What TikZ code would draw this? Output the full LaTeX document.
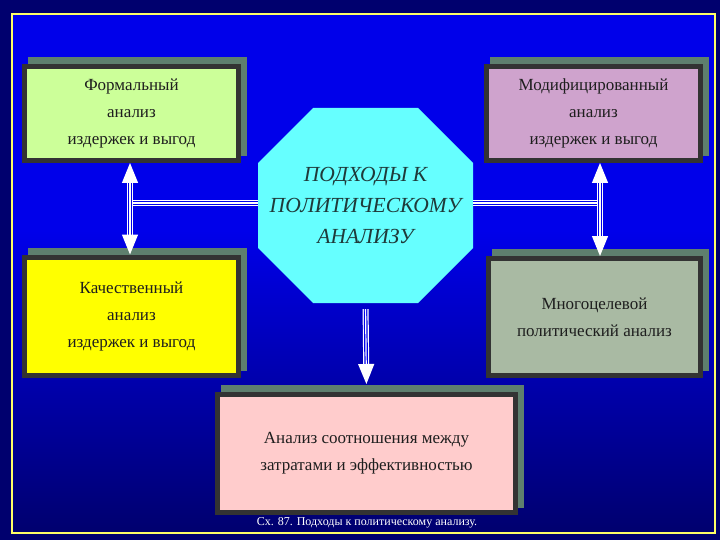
\documentclass[tikz,border=0pt]{standalone}
\usepackage{fontspec}
\setmainfont{Liberation Serif}
\usetikzlibrary{arrows.meta,shadows}

\definecolor{navy}{HTML}{00006E}
\definecolor{brightblue}{HTML}{0000EA}
\definecolor{boxline}{HTML}{333333}
\definecolor{shadowc}{HTML}{5E7F6E}
\definecolor{textc}{HTML}{1E1E1E}
\definecolor{formc}{HTML}{CCFF99}
\definecolor{modc}{HTML}{CFA3CD}
\definecolor{qualc}{HTML}{FFFF00}
\definecolor{multic}{HTML}{A9BAA3}
\definecolor{ratioc}{HTML}{FFCCCC}
\definecolor{octc}{HTML}{66FFFF}
\definecolor{octtext}{HTML}{1F3A3A}
\definecolor{framec}{HTML}{FFFF66}

\begin{document}
\begin{tikzpicture}[x=1pt,y=-1pt,
   box/.style={draw=boxline, line width=5pt, align=center, text=textc,
     font=\fontsize{17}{27}\selectfont,
     drop shadow={shadow xshift=6pt, shadow yshift=7pt, fill=shadowc, draw=shadowc, opacity=1}},
   octagon/.style={minimum width=215pt, minimum height=195pt, inner sep=0pt,
     path picture={\fill[octc]
       ([xshift=#1]path picture bounding box.north west) -- ([xshift=-#1]path picture bounding box.north east) --
       ([yshift=-#1]path picture bounding box.north east) -- ([yshift=#1]path picture bounding box.south east) --
       ([xshift=-#1]path picture bounding box.south east) -- ([xshift=#1]path picture bounding box.south west) --
       ([yshift=#1]path picture bounding box.south west) -- ([yshift=-#1]path picture bounding box.north west) -- cycle;}},
   tube/.style={draw=white, line width=1.2pt,
     preaction={draw=white, line width=6pt, -, #1},
     preaction={draw=brightblue, line width=3.6pt, -, #1}},
   tube/.default={},
   tip/.style={-{Triangle[width=16pt,length=20pt]}},
   tips/.style={{Triangle[width=16pt,length=20pt]}-{Triangle[width=16pt,length=20pt]}}]

   % background and frame
   \fill[navy] (0,0) rectangle (720,540);
   \fill[brightblue] (12,14) rectangle (715,231);
   \shade[top color=brightblue, bottom color=navy] (12,230) rectangle (715,533);
   \draw[framec, line width=2pt] (12,14) rectangle (715,533);

   \node[box, fill=formc, minimum width=214pt, minimum height=94pt] (b1) at (131.5,113.5)
     {Формальный\\анализ\\издержек и выгод};
   \node[box, fill=modc, minimum width=214pt, minimum height=94pt] (b2) at (593.5,113.5)
     {Модифицированный\\анализ\\издержек и выгод};
   \node[box, fill=qualc, minimum width=214pt, minimum height=118pt] (b3) at (131.5,316)
     {Качественный\\анализ\\издержек и выгод};
   \node[box, fill=multic, minimum width=212pt, minimum height=117pt] (b4) at (594.5,317)
     {Многоцелевой\\политический анализ};
   \node[box, fill=ratioc, minimum width=298pt, minimum height=118pt] (b5) at (366.5,453.5)
     {Анализ соотношения между\\затратами и эффективностью};

   \node[octagon=55pt, align=center, text=octtext, font=\itshape\fontsize{21.5}{31}\selectfont]
     (oct) at (365.5,205.5) {ПОДХОДЫ К\\ПОЛИТИЧЕСКОМУ\\АНАЛИЗУ};

   \node[text=white, font=\fontsize{12}{14}\selectfont] (cap) at (367,523)
     {Сх. 87. Подходы к политическому анализу.};

   \coordinate (lj) at (130,203);
   \coordinate (rj) at (600,203);

   \path (oct.west |- lj) edge[tube] (lj);
   \path (oct.east |- rj) edge[tube] (rj);
   \path (b1.south -| lj) edge[tube={shorten <=12pt, shorten >=12pt}, tips] (b3.north -| lj);
   \path (b2.south -| rj) edge[tube={shorten <=12pt, shorten >=12pt}, tips] (b4.north -| rj);
   \path (oct.south) edge[tube={shorten <=6pt, shorten >=20pt}, tip, shorten <=6pt, shorten >=8pt] (b5.north);
\end{tikzpicture}
\end{document}
